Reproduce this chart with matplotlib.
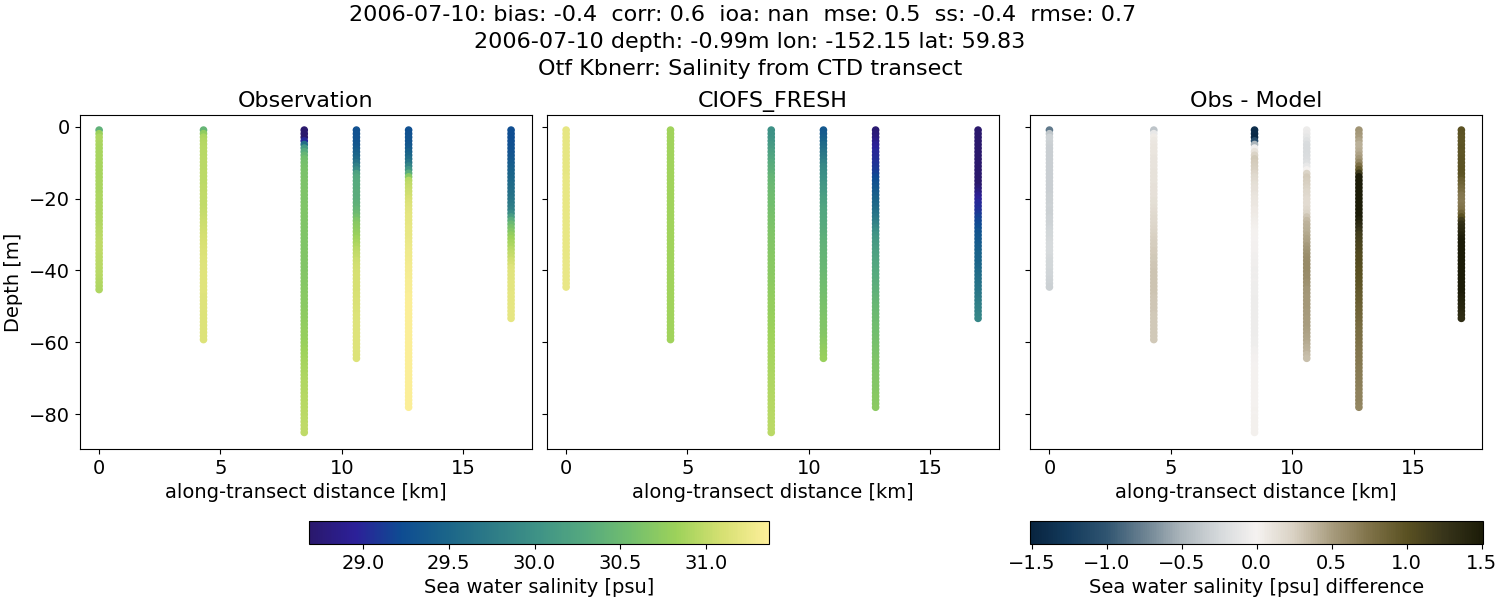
import numpy as np
import matplotlib
matplotlib.use("Agg")
import matplotlib.pyplot as plt
from matplotlib.colors import LinearSegmentedColormap, Normalize
from matplotlib.cm import ScalarMappable

distance_km = [0.0, 4.3, 8.45, 10.6, 12.75, 16.97]
obs_bottom = [-45.3, -59.2, -85.0, -64.4, -78.0, -53.3]
model_bottom = [-44.6, -59.2, -85.0, -64.4, -78.0, -53.3]

obs_0 = [30.40,30.82,30.90,30.90,30.89,30.88,30.88,30.88,30.88,30.88,
         30.88,30.88,30.88,30.88,30.89,30.89,30.89,30.89,30.90,30.90,
         30.90,30.91,30.91,30.91,30.92,30.92,30.93,30.94,30.95,30.96,
         30.97,30.98,30.98,30.98,30.98,30.97,30.97,30.96,30.96,30.95,
         30.95,30.94,30.93,30.92,30.91]
obs_1 = [30.45,30.75,30.90,30.93,30.94,30.95,30.95,30.95,30.96,30.96,
         30.96,30.96,30.97,30.97,30.97,30.97,30.98,30.98,30.99,30.99,
         31.00,31.00,31.01,31.02,31.03,31.04,31.05,31.06,31.07,31.08,
         31.09,31.10,31.11,31.12,31.13,31.13,31.14,31.14,31.15,31.15,
         31.16,31.16,31.16,31.16,31.16,31.16,31.16,31.15,31.15,31.15,
         31.15,31.15,31.14,31.14,31.14,31.14,31.14,31.14,31.14,31.14]
obs_2 = [28.60,28.60,28.60,29.00,29.60,30.10,30.30,30.45,30.55,30.58,
         30.60,30.61,30.62,30.62,30.63,30.63,30.63,30.64,30.64,30.64,
         30.64,30.65,30.65,30.65,30.65,30.65,30.65,30.65,30.65,30.65,
         30.65,30.65,30.65,30.65,30.66,30.66,30.66,30.66,30.66,30.66,
         30.67,30.67,30.68,30.68,30.69,30.69,30.70,30.70,30.71,30.71,
         30.72,30.73,30.73,30.74,30.75,30.76,30.77,30.78,30.79,30.80,
         30.81,30.83,30.84,30.85,30.86,30.87,30.88,30.89,30.90,30.91,
         30.92,30.92,30.93,30.93,30.94,30.94,30.95,30.95,30.96,30.96,
         30.97,30.97,30.98,30.98,30.98]
obs_3 = [29.28,29.29,29.30,29.31,29.33,29.37,29.42,29.48,29.55,29.65,
         29.80,29.95,30.20,30.28,30.30,30.31,30.32,30.33,30.34,30.35,
         30.37,30.40,30.44,30.50,30.58,30.65,30.70,30.73,30.76,30.80,
         30.85,30.88,30.92,30.96,30.99,31.02,31.05,31.07,31.08,31.09,
         31.10,31.10,31.10,31.10,31.10,31.11,31.11,31.12,31.12,31.13,
         31.13,31.14,31.14,31.15,31.15,31.15,31.15,31.15,31.15,31.15,
         31.15,31.15,31.14,31.14]
obs_4 = [29.27,29.28,29.30,29.31,29.33,29.37,29.43,29.50,29.58,29.68,
         29.85,30.05,30.35,30.70,30.95,31.00,31.03,31.05,31.07,31.10,
         31.13,31.15,31.17,31.18,31.19,31.19,31.20,31.21,31.22,31.22,
         31.23,31.24,31.25,31.26,31.27,31.27,31.28,31.29,31.30,31.30,
         31.31,31.31,31.32,31.32,31.33,31.33,31.34,31.34,31.35,31.35,
         31.35,31.35,31.35,31.35,31.35,31.35,31.35,31.35,31.35,31.35,
         31.35,31.35,31.35,31.35,31.35,31.35,31.35,31.35,31.35,31.35,
         31.35,31.35,31.35,31.35,31.35,31.35,31.35,31.35]
obs_5 = [29.25,29.25,29.25,29.26,29.27,29.29,29.30,29.32,29.35,29.38,
         29.41,29.44,29.47,29.50,29.52,29.55,29.57,29.60,29.62,29.66,
         29.70,29.75,29.80,29.95,30.15,30.35,30.50,30.60,30.68,30.76,
         30.83,30.87,30.90,30.95,31.00,31.03,31.07,31.10,31.15,31.16,
         31.17,31.17,31.18,31.18,31.18,31.19,31.19,31.19,31.19,31.20,
         31.20,31.20,31.20]

model_0 = [31.20,31.20,31.20,31.20,31.20,31.20,31.20,31.20,31.20,31.20,
           31.20,31.20,31.20,31.21,31.21,31.21,31.21,31.21,31.21,31.21,
           31.21,31.21,31.22,31.22,31.22,31.22,31.22,31.22,31.22,31.22,
           31.22,31.22,31.22,31.22,31.22,31.22,31.23,31.23,31.23,31.23,
           31.23,31.23,31.23,31.23]
model_1 = [30.85,30.85,30.85,30.85,30.85,30.85,30.85,30.85,30.85,30.85,
           30.85,30.85,30.85,30.85,30.85,30.85,30.85,30.85,30.85,30.85,
           30.85,30.85,30.85,30.85,30.85,30.85,30.85,30.85,30.85,30.85,
           30.85,30.85,30.85,30.85,30.85,30.85,30.85,30.85,30.85,30.85,
           30.85,30.85,30.85,30.85,30.85,30.85,30.85,30.85,30.85,30.85,
           30.85,30.85,30.85,30.85,30.85,30.85,30.85,30.85,30.85,30.85]
model_2 = [30.00,30.01,30.03,30.06,30.10,30.14,30.18,30.22,30.26,30.30,
           30.33,30.36,30.40,30.44,30.46,30.48,30.50,30.51,30.53,30.54,
           30.55,30.56,30.58,30.59,30.60,30.61,30.62,30.63,30.64,30.65,
           30.66,30.66,30.67,30.67,30.68,30.69,30.69,30.70,30.70,30.71,
           30.71,30.72,30.72,30.73,30.74,30.74,30.75,30.76,30.77,30.77,
           30.78,30.79,30.80,30.80,30.81,30.82,30.83,30.84,30.84,30.85,
           30.86,30.86,30.87,30.87,30.88,30.88,30.89,30.89,30.90,30.90,
           30.91,30.91,30.92,30.92,30.93,30.93,30.94,30.94,30.94,30.95,
           30.95,30.95,30.96,30.96,30.96]
model_3 = [29.35,29.38,29.42,29.48,29.55,29.60,29.65,29.70,29.76,29.83,
           29.90,29.94,29.97,30.00,30.03,30.06,30.09,30.12,30.15,30.18,
           30.20,30.23,30.25,30.27,30.28,30.29,30.30,30.32,30.34,30.36,
           30.38,30.40,30.41,30.42,30.43,30.44,30.45,30.46,30.47,30.48,
           30.50,30.51,30.53,30.54,30.56,30.57,30.58,30.59,30.60,30.61,
           30.62,30.63,30.64,30.65,30.65,30.66,30.67,30.68,30.70,30.72,
           30.74,30.76,30.78,30.80]
model_4 = [28.72,28.76,28.80,28.86,28.92,28.96,29.00,29.02,29.04,29.06,
           29.08,29.11,29.15,29.20,29.25,29.29,29.33,29.37,29.41,29.45,
           29.49,29.53,29.58,29.63,29.69,29.75,29.82,29.90,29.97,30.03,
           30.07,30.10,30.13,30.16,30.19,30.21,30.23,30.25,30.27,30.29,
           30.30,30.31,30.33,30.35,30.37,30.39,30.41,30.43,30.45,30.47,
           30.48,30.50,30.51,30.52,30.54,30.55,30.56,30.57,30.58,30.59,
           30.60,30.61,30.62,30.63,30.64,30.64,30.65,30.65,30.66,30.66,
           30.67,30.67,30.68,30.69,30.70,30.70,30.71,30.72]
model_5 = [28.25,28.26,28.28,28.29,28.30,28.31,28.33,28.35,28.37,28.40,
           28.42,28.44,28.47,28.53,28.62,28.68,28.75,28.82,28.90,28.95,
           29.00,29.03,29.05,29.10,29.15,29.18,29.20,29.25,29.30,29.33,
           29.35,29.37,29.40,29.42,29.45,29.47,29.48,29.50,29.52,29.55,
           29.57,29.60,29.62,29.64,29.66,29.69,29.72,29.75,29.78,29.80,
           29.82,29.85,29.87]

obs_casts = [obs_0, obs_1, obs_2, obs_3, obs_4, obs_5]
model_casts = [model_0, model_1, model_2, model_3, model_4, model_5]

title_lines = ["2006-07-10: bias: -0.4  corr: 0.6  ioa: nan  mse: 0.5  ss: -0.4  rmse: 0.7  ",
               "2006-07-10 depth: -0.99m lon: -152.15 lat: 59.83",
               "Otf Kbnerr: Salinity from CTD transect"]
panel_titles = ["Observation", "CIOFS_FRESH", "Obs - Model"]

haline = LinearSegmentedColormap.from_list("haline_like", [
    "#2A186C", "#2C2099", "#0E4C92", "#1B6589", "#2E7C87", "#3F9386",
    "#55A97F", "#72BE6E", "#9DD25A", "#D6E072", "#FDEF9A"])
diff = LinearSegmentedColormap.from_list("diff_like", [
    (0.0, "#08243F"), (0.083, "#133A5C"), (0.167, "#2F5470"), (0.25, "#6A8191"),
    (0.333, "#ABB5BB"), (0.417, "#D5D9DB"), (0.5, "#F5F2F0"), (0.583, "#D9D1C3"),
    (0.667, "#A89C7E"), (0.75, "#7F7248"), (0.833, "#5A5122"), (0.917, "#37341A"),
    (1.0, "#1C1C08")])
sal_norm = Normalize(28.685, 31.367)
diff_norm = Normalize(-1.51, 1.51)

W, H = 1500, 600
plt.rcParams["font.size"] = 14
fig = plt.figure(figsize=(15, 6), dpi=100)

def px_axes(x0, y0, x1, y1):
    return fig.add_axes([x0 / W, 1 - y1 / H, (x1 - x0) / W, (y1 - y0) / H])

axes = [px_axes(79.7, 115, 531.7, 449), px_axes(546.7, 115, 998.7, 449), px_axes(1030, 115, 1482, 449)]
MS = 20

for i, (o, m, x) in enumerate(zip(obs_casts, model_casts, distance_km)):
    zo = np.linspace(-0.99, obs_bottom[i], len(o))
    zm = np.linspace(-0.99, model_bottom[i], len(m))
    axes[0].scatter(np.full(len(o), x), zo, c=o, cmap=haline, norm=sal_norm, s=MS)
    axes[1].scatter(np.full(len(m), x), zm, c=m, cmap=haline, norm=sal_norm, s=MS)
    delta = np.array(o[:len(m)]) - np.array(m)
    axes[2].scatter(np.full(len(m), x), zm, c=delta, cmap=diff, norm=diff_norm, s=MS)

for k, ax in enumerate(axes):
    ax.set_xlim(-0.8, 17.82)
    ax.set_ylim(-89.6, 3.2)
    ax.set_xticks([0, 5, 10, 15])
    ax.set_yticks([0, -20, -40, -60, -80])
    ax.set_xlabel("along-transect distance [km]", fontsize=14)
    ax.set_title(panel_titles[k], fontsize=16)
    ax.tick_params(labelsize=14)
    if k:
        ax.set_yticklabels([])
axes[0].set_ylabel("Depth [m]", fontsize=14)

cax1 = px_axes(309, 521, 769, 544)
cb1 = fig.colorbar(ScalarMappable(norm=sal_norm, cmap=haline), cax=cax1, orientation="horizontal")
cb1.set_ticks([29, 29.5, 30, 30.5, 31])
cb1.set_label("Sea water salinity [psu]", fontsize=14)
cb1.ax.tick_params(labelsize=14)

cax2 = px_axes(1030, 521, 1483, 544)
cb2 = fig.colorbar(ScalarMappable(norm=diff_norm, cmap=diff), cax=cax2, orientation="horizontal")
cb2.set_ticks([-1.5, -1, -0.5, 0, 0.5, 1, 1.5])
cb2.set_label("Sea water salinity [psu] difference", fontsize=14)
cb2.ax.tick_params(labelsize=14)

fig.suptitle("\n".join(title_lines), fontsize=16, x=0.5, y=0.992, va="top", linespacing=1.43)
fig.savefig("out.png", dpi=100)
